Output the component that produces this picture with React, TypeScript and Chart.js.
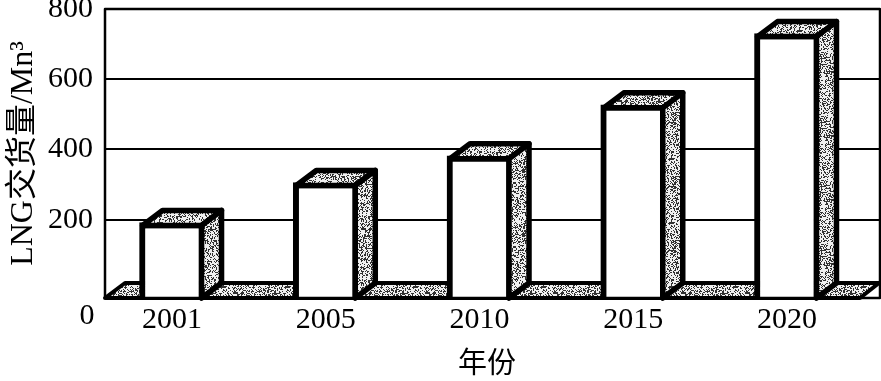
import { useEffect, useRef } from "react";
import { Chart, registerables } from "chart.js";

Chart.register(...registerables);

const categories = ["2001", "2005", "2010", "2015", "2020"];
const values = [192, 306, 382, 527, 730];
const yTicks = [200, 400, 600, 800];
const yMin = -23;
const yMax = 800;
const xMin = -0.436;
const xMax = 4.605;
const xTitle = "年份";
const yTitle = "LNG交货量/Mn³";

const FONT = '"Liberation Serif", "Noto Sans CJK SC", serif';
const DX = 20;
const DY = 15;

function makeStipple(ctx: CanvasRenderingContext2D) {
  const size = 64;
  const c = document.createElement("canvas");
  c.width = size;
  c.height = size;
  const g = c.getContext("2d")!;
  const img = g.createImageData(size, size);
  let s = 12345;
  for (let i = 0; i < size * size; i++) {
    s = (s * 1103515245 + 12345) & 0x7fffffff;
    const dark = (s >> 16) % 100 < 38;
    const v = dark ? 50 : 240;
    img.data[i * 4] = v;
    img.data[i * 4 + 1] = v;
    img.data[i * 4 + 2] = v;
    img.data[i * 4 + 3] = 255;
  }
  g.putImageData(img, 0, 0);
  return ctx.createPattern(c, "repeat")!;
}

function poly(ctx: CanvasRenderingContext2D, pts: number[][], fill: CanvasPattern | null, lw: number) {
  ctx.beginPath();
  pts.forEach((p, i) => (i ? ctx.lineTo(p[0], p[1]) : ctx.moveTo(p[0], p[1])));
  ctx.closePath();
  if (fill) {
    ctx.fillStyle = fill;
    ctx.fill();
  }
  ctx.lineWidth = lw;
  ctx.strokeStyle = "#000";
  ctx.lineJoin = "round";
  ctx.stroke();
}

const solidPlugin = {
  id: "solid",
  beforeDatasetsDraw(chart: any) {
    const { ctx, chartArea: a } = chart;
    const pat = makeStipple(ctx);
    ctx.save();
    // floor
    poly(ctx, [[a.left, a.bottom], [a.left + DX, a.bottom - DY], [a.right - 1, a.bottom - DY], [a.right - DX, a.bottom]], pat, 4);
    ctx.restore();
  },
  afterDatasetsDraw(chart: any) {
    const { ctx, chartArea: a } = chart;
    const pat = makeStipple(ctx);
    ctx.save();
    chart.getDatasetMeta(0).data.forEach((bar: any) => {
      const w = bar.width;
      const l = bar.x - w / 2 + 3;
      const r = bar.x + w / 2 - 3;
      const t = bar.y + 3;
      const b = a.bottom;
      poly(ctx, [[l, t], [l + DX, t - DY], [r + DX, t - DY], [r, t]], pat, 5.5);
      poly(ctx, [[r, t], [r + DX, t - DY], [r + DX, b - DY], [r, b]], pat, 5.5);
    });
    // frame
    ctx.strokeStyle = "#000";
    ctx.lineWidth = 2.5;
    ctx.strokeRect(a.left, a.top, a.right - a.left, a.bottom - a.top);
    // zero label of the axis corner and the x axis name
    ctx.fillStyle = "#000";
    ctx.font = `30px ${FONT}`;
    ctx.textAlign = "center";
    ctx.textBaseline = "middle";
    ctx.fillText("0", 87, 316);
    ctx.font = `29px ${FONT}`;
    ctx.fillText(xTitle, 487, 365);
    ctx.restore();
  },
};

export default function App() {
  const ref = useRef<HTMLCanvasElement>(null);
  useEffect(() => {
    document.body.style.margin = "0";
    document.body.style.background = "#fff";
    const chart = new Chart(ref.current!, {
      type: "bar",
      data: {
        datasets: [
          {
            data: values.map((y, x) => ({ x, y })),
            base: yMin,
            backgroundColor: "#fff",
            borderColor: "#000",
            borderWidth: 6,
            borderSkipped: "bottom",
            barThickness: 65,
          } as any,
        ],
      },
      options: {
        responsive: false,
        animation: false,
        layout: { padding: { top: 9, right: 1, left: 0, bottom: 0 } },
        plugins: { legend: { display: false }, tooltip: { enabled: false } },
        scales: {
          x: {
            type: "linear",
            offset: false,
            min: xMin,
            max: xMax,
            grid: { display: false },
            border: { display: false },
            afterBuildTicks: (s: any) => {
              s.ticks = categories.map((_, i) => ({ value: i }));
            },
            afterFit: (s: any) => {
              s.height = 83;
              s.paddingLeft = 0;
              s.paddingRight = 0;
            },
            ticks: {
              autoSkip: false,
              maxRotation: 0,
              color: "#000",
              padding: -4,
              font: { family: FONT, size: 30 },
              callback: (v: any) => categories[v],
            },
          },
          y: {
            type: "linear",
            min: yMin,
            max: yMax,
            border: { display: false },
            grid: { color: "#000", lineWidth: 2, drawTicks: false },
            afterBuildTicks: (s: any) => {
              s.ticks = yTicks.map((value) => ({ value }));
            },
            afterFit: (s: any) => {
              s.width = 105;
              s.paddingTop = 0;
              s.paddingBottom = 0;
            },
            ticks: {
              color: "#000",
              padding: 12,
              font: { family: FONT, size: 30 },
            },
            title: {
              display: true,
              text: yTitle,
              color: "#000",
              font: { family: FONT, size: 32 },
              padding: { top: 4, bottom: 0 },
            },
          },
        },
      },
      plugins: [solidPlugin],
    } as any);
    return () => chart.destroy();
  }, []);
  return <canvas ref={ref} width={881} height={381} style={{ display: "block" }} />;
}
